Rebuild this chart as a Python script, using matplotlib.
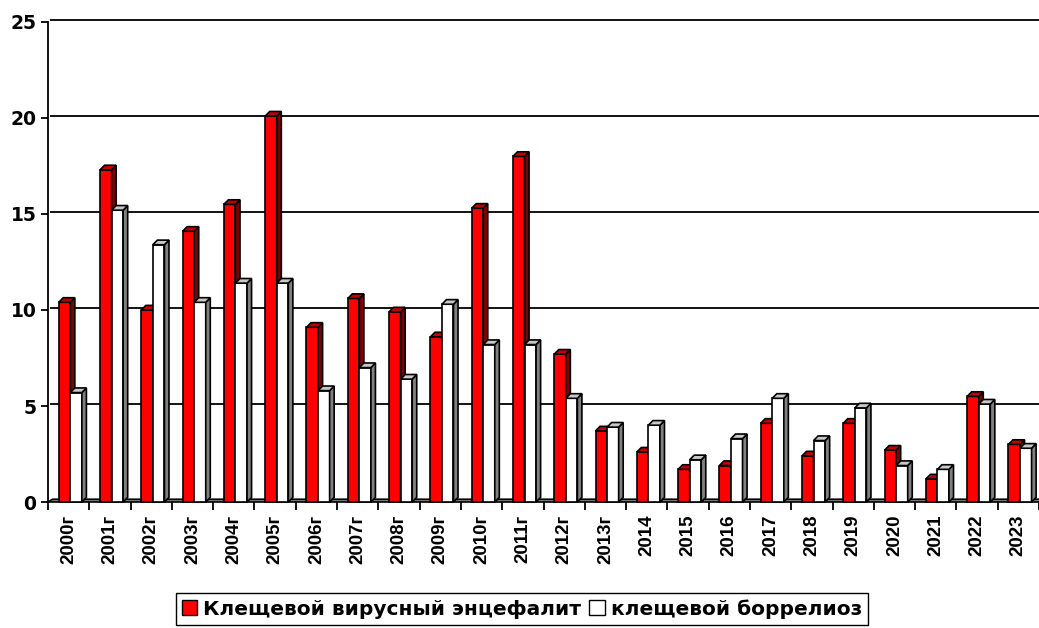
import matplotlib
matplotlib.use('Agg')
import matplotlib.pyplot as plt
from matplotlib.patches import Polygon, Rectangle

years = ['2000г', '2001г', '2002г', '2003г', '2004г', '2005г', '2006г', '2007г',
         '2008г', '2009г', '2010г', '2011г', '2012г', '2013г', '2014', '2015',
         '2016', '2017', '2018', '2019', '2020', '2021', '2022', '2023']
tbe = [10.4, 17.3, 10.0, 14.1, 15.5, 20.1, 9.1, 10.6, 9.9, 8.6, 15.3, 18.0,
       7.7, 3.7, 2.6, 1.7, 1.9, 4.1, 2.4, 4.1, 2.7, 1.2, 5.5, 3.0]
lyme = [5.7, 15.2, 13.4, 10.4, 11.4, 11.4, 5.8, 7.0, 6.4, 10.3, 8.2, 8.2,
        5.4, 3.9, 4.0, 2.2, 3.3, 5.4, 3.2, 4.9, 1.9, 1.7, 5.1, 2.8]
series_names = ['Клещевой вирусный энцефалит', 'клещевой боррелиоз']
yticks = [0, 5, 10, 15, 20, 25]

WIDE = ['DejaVu Sans']
NARROW = ['Liberation Sans Narrow', 'Liberation Sans', 'DejaVu Sans']
plt.rcParams['font.family'] = WIDE

W, H = 1039, 628
fig = plt.figure(figsize=(W / 100, H / 100), dpi=100)
ax = fig.add_axes([48 / W, (H - 502) / H, 991 / W, 480 / H])
n = len(years)
ax.set_xlim(-0.5, n - 0.5)
ax.set_ylim(0, 25)

DX, DY = 0.11, 0.24
BW = 0.28
LW = 1.2

# gridlines on back wall
for v in yticks[1:]:
    ax.plot([-0.5 + 0.05, n - 0.5], [v + 0.09, v + 0.09], color='black',
            lw=1.3, zorder=1, clip_on=False, solid_capstyle='butt')

# floor
floor = Polygon([(-0.5, 0), (n - 0.5, 0), (n - 0.5 + DX, DY * 0.6), (-0.5 + DX, DY * 0.6)],
                closed=True, facecolor='#808080', edgecolor='black', lw=LW, zorder=2,
                clip_on=False)
ax.add_patch(floor)


def bar3d(x0, h, front, side, top):
    z = 3
    ax.add_patch(Rectangle((x0, 0), BW, h, facecolor=front, edgecolor='black',
                           lw=LW, zorder=z, clip_on=False))
    ax.add_patch(Polygon([(x0 + BW, 0), (x0 + BW + DX, DY), (x0 + BW + DX, h + DY),
                          (x0 + BW, h)], closed=True, facecolor=side,
                         edgecolor='black', lw=LW, zorder=z, clip_on=False))
    ax.add_patch(Polygon([(x0, h), (x0 + DX, h + DY), (x0 + BW + DX, h + DY),
                          (x0 + BW, h)], closed=True, facecolor=top,
                         edgecolor='black', lw=LW, zorder=z, clip_on=False))


for i in range(n):
    bar3d(i - 0.24, tbe[i], '#FF0000', '#800000', '#C00000')
    bar3d(i - 0.24 + BW, lyme[i], '#FFFFFF', '#808080', '#C8C8C8')

for s in ['top', 'right', 'bottom']:
    ax.spines[s].set_visible(False)
ax.spines['left'].set_linewidth(1.3)

ax.set_yticks(yticks)
ax.set_yticklabels([str(v) for v in yticks], fontsize=13.5, fontweight='bold')
ax.tick_params(axis='y', direction='out', length=5.3, width=1.3, pad=3.0)

ax.set_xticks([i - 0.5 for i in range(n + 1)])
ax.set_xticklabels([])
ax.tick_params(axis='x', which='major', direction='out', length=5.8, width=1.3)
ax.set_xticks(list(range(n)), minor=True)
ax.set_xticklabels(years, minor=True, rotation=90, fontsize=13.5, fontweight='bold',
                   family=NARROW)
ax.tick_params(axis='x', which='minor', length=0, pad=9)

handles = [Rectangle((0, 0), 1, 1, facecolor='#FF0000', edgecolor='black', lw=1),
           Rectangle((0, 0), 1, 1, facecolor='#FFFFFF', edgecolor='black', lw=1)]
leg = fig.legend(handles, series_names, loc='center', bbox_to_anchor=(522 / W, (H - 609) / H),
                 ncol=2, frameon=True, fancybox=False, edgecolor='black', framealpha=1,
                 prop={'weight': 'bold', 'size': 14.5, 'family': WIDE},
                 handlelength=0.75, handleheight=0.75,
                 handletextpad=0.3, columnspacing=0.4, borderpad=0.3, borderaxespad=0)
leg.get_frame().set_linewidth(1.0)

fig.savefig('out.png', dpi=100)
